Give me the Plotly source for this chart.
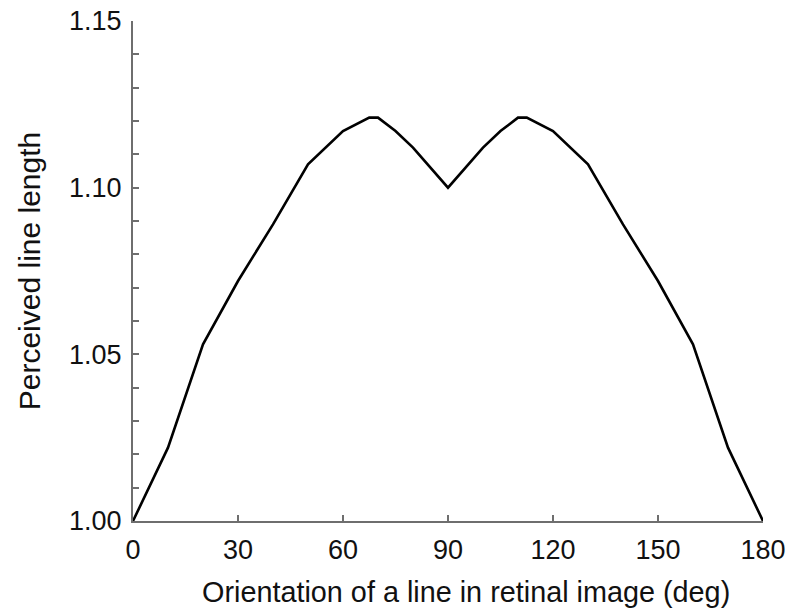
import plotly.graph_objects as go

orientation_deg = [0, 10, 20, 30, 40, 50, 60, 67.5, 70, 75, 80, 90,
                   100, 105, 110, 112.5, 120, 130, 140, 150, 160, 170, 180]
perceived_length = [1.000, 1.022, 1.053, 1.072, 1.089, 1.107, 1.117, 1.121, 1.121, 1.117, 1.112, 1.100,
                    1.112, 1.117, 1.121, 1.121, 1.117, 1.107, 1.089, 1.072, 1.053, 1.022, 1.000]

x_ticks = [0, 30, 60, 90, 120, 150, 180]
y_ticks = [1.00, 1.05, 1.10, 1.15]
y_tick_labels = ["1.00", "1.05", "1.10", "1.15"]
x_title = "Orientation of a line in retinal image (deg)"
y_title = "Perceived line length"

fig = go.Figure()
fig.add_trace(go.Scatter(
    x=orientation_deg, y=perceived_length, mode="lines",
    line=dict(color="black", width=2.6), cliponaxis=False, showlegend=False,
))

axis_color = "#6e6e6e"
text_color = "#111111"
font_family = "Liberation Sans, Arial, Helvetica, sans-serif"

fig.update_layout(
    width=810, height=611,
    margin=dict(l=133, r=47, t=21, b=90, autoexpand=False),
    paper_bgcolor="white", plot_bgcolor="white",
    font=dict(family=font_family, size=27, color=text_color),
    xaxis=dict(
        range=[0, 180], tickvals=x_ticks, ticktext=[str(v) for v in x_ticks],
        showgrid=False, zeroline=False, showline=True, linecolor=axis_color, linewidth=2,
        ticks="inside", ticklen=6, tickwidth=1.5, tickcolor=axis_color,
        tickfont=dict(size=27, color=text_color), automargin=False,
        ticklabeloverflow="allow", ticklabelstandoff=4,
    ),
    yaxis=dict(
        range=[1.0, 1.15], tickvals=y_ticks, ticktext=y_tick_labels,
        showgrid=False, zeroline=False, showline=True, linecolor=axis_color, linewidth=2,
        ticks="inside", ticklen=6, tickwidth=1.5, tickcolor=axis_color,
        tickfont=dict(size=27, color=text_color), automargin=False,
        ticklabeloverflow="allow", ticklabelstandoff=4,
        minor=dict(dtick=0.01, tick0=1.0, ticks="inside", ticklen=6, tickwidth=1.5,
                   tickcolor=axis_color, showgrid=False),
        title=dict(text=y_title, font=dict(size=30, color=text_color), standoff=20),
    ),
)
fig.add_annotation(
    text=x_title, xref="paper", yref="paper", x=0.5286, y=0,
    xanchor="center", yanchor="middle", yshift=-71, showarrow=False,
    font=dict(size=28.8, color=text_color),
)

fig.write_html("out.html", config={"displayModeBar": False},
               post_script="document.body.style.margin='0';")
